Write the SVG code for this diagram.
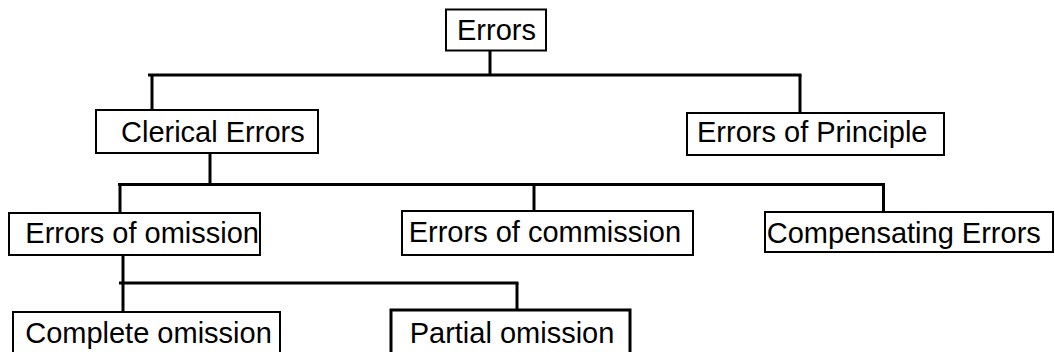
<svg xmlns="http://www.w3.org/2000/svg" width="1055" height="352" viewBox="0 0 1055 352">
<style>
.box{fill:#fff;stroke:#000;stroke-width:2}
.lbl{font-family:"Liberation Sans",Arial,sans-serif;font-size:29px;fill:#000}
.conn line{stroke:#000;stroke-width:3}
</style>
<rect width="1055" height="352" fill="#fff"/>
<g id="connectors" class="conn">
<line x1="490" y1="51" x2="490" y2="75"/>
<line x1="148" y1="75" x2="801.5" y2="75"/>
<line x1="152" y1="75" x2="152" y2="110"/>
<line x1="800" y1="75" x2="800" y2="113"/>
<line x1="210" y1="153" x2="210" y2="184.5"/>
<line x1="118" y1="184.5" x2="885" y2="184.5"/>
<line x1="120" y1="184.5" x2="120" y2="213"/>
<line x1="534" y1="184.5" x2="534" y2="211"/>
<line x1="883.5" y1="184.5" x2="883.5" y2="212"/>
<line x1="123" y1="255" x2="123" y2="312"/>
<line x1="119" y1="283" x2="518.5" y2="283"/>
<line x1="517" y1="283" x2="517" y2="310"/>
</g>
<g id="errors"><rect class="box" x="446" y="9.5" width="100" height="41"/><text class="lbl" x="457" y="39.5">Errors</text></g>
<g id="clerical"><rect class="box" x="96" y="110" width="222" height="43"/><text class="lbl" x="121" y="142">Clerical Errors</text></g>
<g id="principle"><rect class="box" x="687" y="113" width="257" height="42"/><text class="lbl" x="697" y="142">Errors of Principle</text></g>
<g id="omission"><rect class="box" x="9" y="213" width="251" height="42"/><text class="lbl" x="25.3" y="243.3">Errors of omission</text></g>
<g id="commission"><rect class="box" x="402" y="211" width="291" height="44"/><text class="lbl" x="408.7" y="241.7">Errors of commission</text></g>
<g id="compensating"><rect class="box" x="765" y="212" width="288" height="40"/><text class="lbl" x="766.8" y="243.3">Compensating Errors</text></g>
<g id="complete"><rect class="box" x="13" y="312" width="267" height="46"/><text class="lbl" x="25.2" y="342.5">Complete omission</text></g>
<g id="partial"><rect class="box" x="391" y="310" width="239" height="48" style="stroke-width:3"/><text class="lbl" x="409.7" y="342.5">Partial omission</text></g>
</svg>
